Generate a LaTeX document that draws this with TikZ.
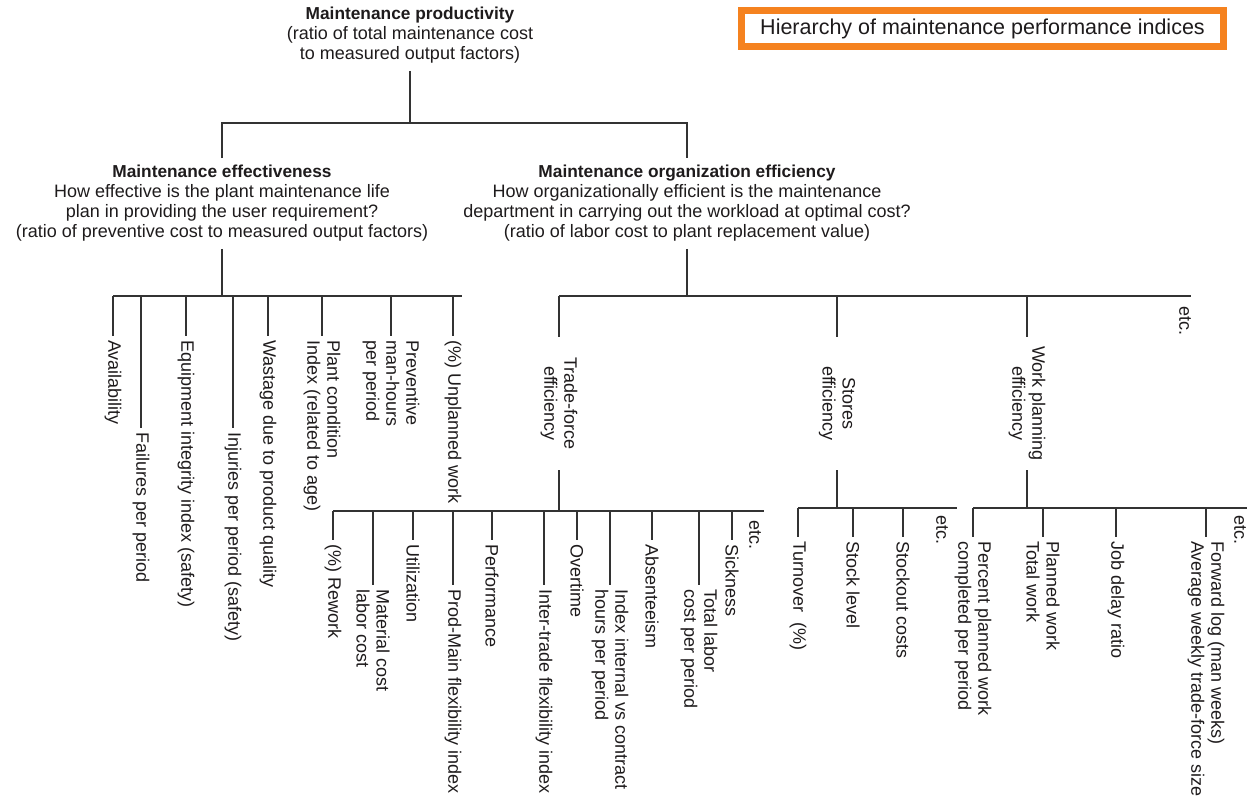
\documentclass[tikz,border=0pt]{standalone}
\usepackage{fontspec}
\setmainfont{Liberation Sans}
\definecolor{ink}{HTML}{1E1B1C}
\definecolor{wire}{HTML}{333333}
\definecolor{framecol}{HTML}{F5821F}
\newcommand\hd[1]{{\fontsize{17.3}{20}\selectfont\bfseries #1}}
\begin{document}
\begin{tikzpicture}[x=1pt,y=-1pt,
  txt/.style={font=\fontsize{18}{20}\selectfont, text=ink},
  head/.style={txt, align=center, inner xsep=2pt, inner ysep=7pt},
  mid/.style={txt, rotate=-90, align=center, minimum width=133pt, inner sep=0pt},
  leaf/.style={txt, rotate=-90, anchor=west, align=left, inner xsep=4pt, inner ysep=0pt},
  etc/.style={txt, rotate=-90, anchor=west, inner sep=0pt},
  link/.style={draw=wire, line width=1.4pt},
]
\useasboundingbox (0,0) rectangle (1255,811);

% title box
\node[draw=framecol, line width=7pt, fill=white, minimum width=482pt,
      minimum height=36pt, inner sep=0pt, font=\fontsize{21.5}{24}\selectfont,
      text=ink] (title) at (982.5,28.5) {Hierarchy of maintenance performance indices};

% top levels
\node[head] (prod) at (410,35.5) {\hd{Maintenance productivity}\\(ratio of total maintenance cost\\to measured output factors)};
\node[head] (eff) at (222,203.5) {\hd{Maintenance effectiveness}\\How effective is the plant maintenance life\\plan in providing the user requirement?\\(ratio of preventive cost to measured output factors)};
\node[head] (org) at (687,203.5) {\hd{Maintenance organization efficiency}\\How organizationally efficient is the maintenance\\department in carrying out the workload at optimal cost?\\(ratio of labor cost to plant replacement value)};

\coordinate (topbar) at (410,123);
\draw[link] (prod.south) -- (topbar);
\draw[link] (eff.north) -- (eff.north |- topbar) -- (org.north |- topbar) -- (org.north);

% effectiveness indices
\coordinate (effbar) at (222,296);
\coordinate (effend) at (462,296);
\draw[link] (eff.south) -- (effbar);
\node[leaf] (e1) at (113,336) {Availability};
\node[leaf] (e2) at (141,428) {Failures per period};
\node[leaf] (e3) at (186,336) {Equipment integrity index (safety)};
\node[leaf] (e4) at (233,428) {Injuries per period (safety)};
\node[leaf] (e5) at (268,336) {Wastage due to product quality};
\node[leaf] (e6) at (322,336) {Plant condition\\Index (related to age)};
\node[leaf] (e7) at (391,336) {Preventive\\man-hours\\per period};
\node[leaf] (e8) at (453,336) {(\%) Unplanned work};
\draw[link] (e1.west |- effbar) -- (effend);
\foreach \n in {e1,e2,e3,e4,e5,e6,e7,e8} \draw[link] (\n.west |- effbar) -- (\n.west);

% organization efficiency branches
\coordinate (orgbar) at (687,296);
\coordinate (orgend) at (1191,296);
\draw[link] (org.south) -- (orgbar);
\node[mid] (tf) at (559,403.5) {Trade-force\\efficiency};
\node[mid] (st) at (837,403.5) {Stores\\efficiency};
\node[mid] (wp) at (1027,403.5) {Work planning\\efficiency};
\draw[link] (tf.west |- orgbar) -- (orgend);
\foreach \n in {tf,st,wp} \draw[link] (\n.west |- orgbar) -- (\n.west);
\node[etc] (etc0) at (1185,306) {etc.};

% trade-force indices
\coordinate (tfbar) at (559,511);
\coordinate (tfend) at (764,511);
\draw[link] (tf.east) -- (tfbar);
\node[leaf] (t1) at (333,540) {(\%) Rework};
\node[leaf] (t2) at (373,585) {Material cost\\labor cost};
\node[leaf] (t3) at (413,540) {Utilization};
\node[leaf] (t4) at (453,585) {Prod-Main flexibility index};
\node[leaf] (t5) at (492,540) {Performance};
\node[leaf] (t6) at (544,585) {Inter-trade flexibility index};
\node[leaf] (t7) at (577,540) {Overtime};
\node[leaf] (t8) at (610,585) {Index internal vs contract\\hours per period};
\node[leaf] (t9) at (652,540) {Absenteeism};
\node[leaf] (t10) at (699,585) {Total labor\\cost per period};
\node[leaf] (t11) at (732,540) {Sickness};
\draw[link] (t1.west |- tfbar) -- (tfend);
\foreach \n in {t1,t2,t3,t4,t5,t6,t7,t8,t9,t10,t11} \draw[link] (\n.west |- tfbar) -- (\n.west);
\node[etc] (etc1) at (755,520) {etc.};

% stores indices
\coordinate (stbar) at (837,508);
\coordinate (stend) at (957,508);
\draw[link] (st.east) -- (stbar);
\node[leaf] (s1) at (798,537) {Turnover\ \ (\%)};
\node[leaf] (s2) at (853,537) {Stock level};
\node[leaf] (s3) at (903,537) {Stockout costs};
\draw[link] (s1.west |- stbar) -- (stend);
\foreach \n in {s1,s2,s3} \draw[link] (\n.west |- stbar) -- (\n.west);
\node[etc] (etc2) at (942,515) {etc.};

% work planning indices
\coordinate (wpbar) at (1027,508);
\coordinate (wpend) at (1247,508);
\draw[link] (wp.east) -- (wpbar);
\node[leaf] (w1) at (973,537) {Percent planned work\\completed per period};
\node[leaf] (w2) at (1043,537) {Planned work\\Total work};
\node[leaf] (w3) at (1116,537) {Job delay ratio};
\node[leaf] (w4) at (1206,537) {Forward log (man weeks)\\Average weekly trade-force size};
\draw[link] (w1.west |- wpbar) -- (wpend);
\foreach \n in {w1,w2,w3,w4} \draw[link] (\n.west |- wpbar) -- (\n.west);
\node[etc] (etc3) at (1240,515) {etc.};
\end{tikzpicture}
\end{document}
